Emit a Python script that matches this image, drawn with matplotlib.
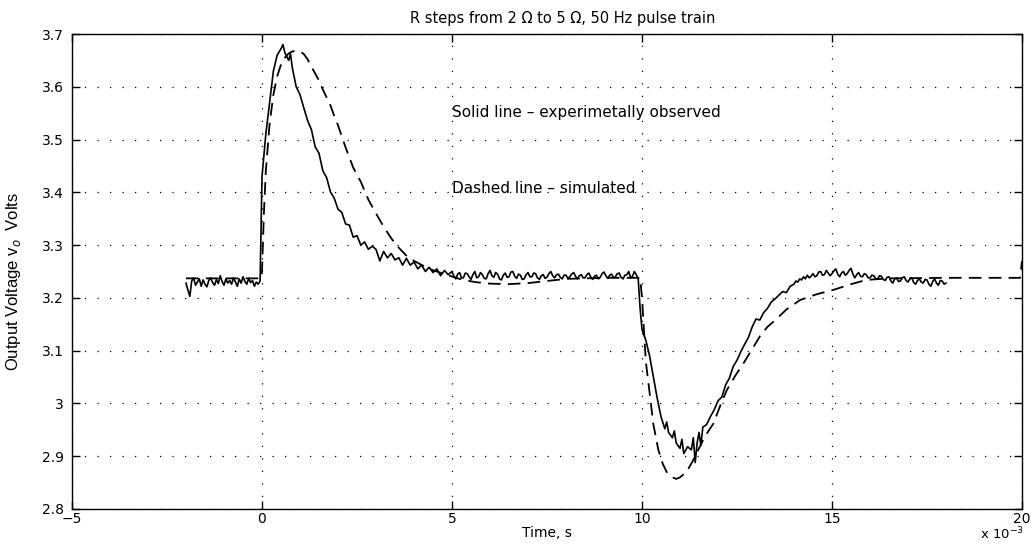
import matplotlib
matplotlib.use("Agg")
import matplotlib.pyplot as plt
import numpy as np

# ---------------- data (time in ms, voltage in V) ----------------
# experimental trace, uniformly sampled baseline segments (start, step, values)
exp_a_start, exp_a_step = -2.0, 0.05
exp_a = [3.228, 3.215, 3.203, 3.232, 3.238, 3.224, 3.230, 3.236, 3.222, 3.234, 3.226, 3.221, 3.233,
         3.238, 3.229, 3.224, 3.235, 3.227, 3.242, 3.231, 3.224, 3.236, 3.228, 3.233, 3.226, 3.238,
         3.230, 3.222, 3.236, 3.228, 3.240, 3.231, 3.226, 3.237, 3.229, 3.233, 3.222, 3.230, 3.226]

# step up and decay
t_exp_b = [-0.05, 0.0, 0.1, 0.2, 0.3, 0.4, 0.5, 0.55, 0.6, 0.7, 0.75, 0.8, 0.9, 1.0, 1.1, 1.2, 1.3,
           1.4, 1.5, 1.6, 1.7, 1.8, 1.9, 2.0, 2.1, 2.2, 2.3, 2.4, 2.5, 2.6, 2.7, 2.8, 2.9, 3.0, 3.1,
           3.2, 3.3, 3.4, 3.5, 3.6, 3.7, 3.8, 3.9, 4.0, 4.1, 4.2, 4.3, 4.4, 4.5, 4.6, 4.7, 4.8, 4.9]
v_exp_b = [3.232, 3.430, 3.510, 3.570, 3.630, 3.660, 3.672, 3.680, 3.665, 3.650, 3.662, 3.635, 3.600,
           3.585, 3.560, 3.536, 3.519, 3.486, 3.474, 3.441, 3.428, 3.401, 3.389, 3.368, 3.362, 3.340,
           3.338, 3.315, 3.318, 3.300, 3.306, 3.292, 3.298, 3.292, 3.270, 3.288, 3.276, 3.284, 3.272,
           3.276, 3.262, 3.275, 3.262, 3.268, 3.255, 3.262, 3.250, 3.258, 3.248, 3.255, 3.242, 3.252,
           3.244]

exp_c_start, exp_c_step = 5.0, 0.05
exp_c = [3.250, 3.241, 3.236, 3.245, 3.248, 3.238, 3.238, 3.247, 3.246, 3.240,
         3.235, 3.244, 3.250, 3.238, 3.240, 3.248, 3.244, 3.237, 3.236, 3.246,
         3.252, 3.242, 3.239, 3.248, 3.245, 3.236, 3.234, 3.243, 3.247, 3.239,
         3.240, 3.249, 3.250, 3.241, 3.237, 3.245, 3.243, 3.235, 3.236, 3.244,
         3.248, 3.240, 3.240, 3.247, 3.246, 3.238, 3.235, 3.242, 3.244, 3.237,
         3.239, 3.246, 3.250, 3.242, 3.238, 3.244, 3.245, 3.239, 3.236, 3.243,
         3.243, 3.237, 3.240, 3.245, 3.248, 3.241, 3.236, 3.242, 3.244, 3.238,
         3.238, 3.244, 3.247, 3.240, 3.235, 3.241, 3.243, 3.236, 3.239, 3.246,
         3.249, 3.242, 3.237, 3.243, 3.245, 3.238, 3.240, 3.246, 3.247, 3.239,
         3.236, 3.243, 3.244, 3.250, 3.238, 3.241, 3.250, 3.244, 3.236]

# step down and recovery
t_exp_d = [9.95, 10.0, 10.1, 10.2, 10.3, 10.4, 10.5, 10.6, 10.65, 10.7, 10.8, 10.85, 10.9, 11.0,
           11.05, 11.1, 11.2, 11.3, 11.35, 11.4, 11.45, 11.5, 11.55, 11.6, 11.7, 11.8, 11.9, 12.0,
           12.1, 12.2, 12.3, 12.4, 12.5, 12.6, 12.7, 12.8, 12.9, 13.0, 13.1, 13.2, 13.3, 13.4, 13.5,
           13.6, 13.7, 13.8, 13.9]
v_exp_d = [3.180, 3.140, 3.120, 3.090, 3.050, 3.010, 2.975, 2.952, 2.965, 2.945, 2.935, 2.948, 2.925,
           2.915, 2.932, 2.905, 2.918, 2.912, 2.935, 2.888, 2.925, 2.945, 2.920, 2.955, 2.960, 2.975,
           2.988, 3.005, 3.012, 3.035, 3.048, 3.070, 3.082, 3.098, 3.112, 3.125, 3.145, 3.160, 3.158,
           3.172, 3.180, 3.192, 3.198, 3.205, 3.212, 3.210, 3.222]

exp_e_start, exp_e_step = 14.0, 0.05
exp_e = [3.226, 3.232, 3.230, 3.236, 3.234, 3.240, 3.236, 3.243, 3.238, 3.241,
         3.246, 3.240, 3.242, 3.249, 3.250, 3.243, 3.244, 3.252, 3.247, 3.242,
         3.246, 3.251, 3.255, 3.245, 3.240, 3.247, 3.250, 3.243, 3.246, 3.252,
         3.256, 3.245, 3.238, 3.244, 3.248, 3.241, 3.240, 3.246, 3.244, 3.238,
         3.238, 3.243, 3.242, 3.236, 3.236, 3.242, 3.241, 3.235, 3.233, 3.239,
         3.240, 3.232, 3.228, 3.236, 3.238, 3.231, 3.232, 3.238, 3.240, 3.233,
         3.230, 3.236, 3.238, 3.229, 3.226, 3.233, 3.236, 3.230, 3.228, 3.235,
         3.234, 3.226, 3.222, 3.231, 3.236, 3.228, 3.224, 3.233, 3.232, 3.226,
         3.228]

# simulated trace
t_sim = [-2.0, -0.02, 0.0, 0.05, 0.1, 0.2, 0.3, 0.4, 0.5, 0.6, 0.7, 0.8, 0.9, 1.0, 1.1, 1.2, 1.3,
         1.4, 1.5, 1.6, 1.7, 1.8, 1.9, 2.0, 2.2, 2.4, 2.6, 2.8, 3.0, 3.2, 3.4, 3.6, 3.8, 4.0,
         4.4, 4.8, 5.2, 5.6, 6.0, 6.5, 7.0, 7.5, 8.0, 9.0, 9.95, 10.0, 10.05, 10.1, 10.2, 10.3,
         10.43, 10.55, 10.65, 10.8, 10.9, 11.0, 11.18, 11.35, 11.5, 11.61, 11.75, 11.88, 12.05,
         12.23, 12.45, 12.67, 12.9, 13.1, 13.3, 13.54, 13.8, 14.16, 14.6, 15.03, 15.5, 15.9,
         16.5, 18.0, 19.95, 20.0]
v_sim = [3.237, 3.237, 3.250, 3.360, 3.440, 3.530, 3.585, 3.620, 3.642, 3.655, 3.663, 3.667, 3.668,
         3.667, 3.662, 3.652, 3.638, 3.625, 3.612, 3.595, 3.580, 3.565, 3.545, 3.527, 3.485, 3.447,
         3.420, 3.386, 3.360, 3.335, 3.313, 3.295, 3.280, 3.270, 3.255, 3.245, 3.236, 3.230, 3.227,
         3.226, 3.228, 3.232, 3.236, 3.238, 3.238, 3.200, 3.140, 3.080, 3.020, 2.960, 2.912, 2.885,
         2.870, 2.860, 2.857, 2.860, 2.871, 2.893, 2.915, 2.931, 2.948, 2.962, 2.994, 3.025, 3.052,
         3.076, 3.103, 3.127, 3.145, 3.160, 3.178, 3.196, 3.207, 3.215, 3.226, 3.234, 3.237, 3.238,
         3.238, 3.270]

x_ticks = [-5, 0, 5, 10, 15, 20]
x_ticklabels = ["\u22125", "0", "5", "10", "15", "20"]
y_ticks = [2.8, 2.9, 3.0, 3.1, 3.2, 3.3, 3.4, 3.5, 3.6, 3.7]
y_ticklabels = ["2.8", "2.9", "3", "3.1", "3.2", "3.3", "3.4", "3.5", "3.6", "3.7"]

title = "R steps from 2 \u03a9 to 5 \u03a9, 50 Hz pulse train"
xlabel = "Time, s"
ylabel = "Output Voltage v$_o$  Volts"
note1 = "Solid line \u2013 experimetally observed"
note2 = "Dashed line \u2013 simulated"

# assemble the experimental trace
def seg(start, step, vals):
    return list(start + step * np.arange(len(vals)))

t_exp = seg(exp_a_start, exp_a_step, exp_a) + t_exp_b + seg(exp_c_start, exp_c_step, exp_c) \
    + t_exp_d + seg(exp_e_start, exp_e_step, exp_e)
v_exp = exp_a + v_exp_b + exp_c + v_exp_d + exp_e

# ---------------- figure ----------------
plt.rcParams['font.family'] = ['DejaVu Sans']
fig = plt.figure(figsize=(10.31, 5.44), dpi=100)
ax = fig.add_axes([72 / 1031, 1 - 509 / 544, 950 / 1031, 475 / 544])

ax.plot(t_sim, v_sim, color="black", linewidth=1.3, linestyle=(0, (7, 4)))
ax.plot(t_exp, v_exp, color="black", linewidth=1.2)

ax.set_xlim(-5, 20)
ax.set_ylim(2.8, 3.7)
ax.set_xticks(x_ticks)
ax.set_xticklabels(x_ticklabels)
ax.set_yticks(y_ticks)
ax.set_yticklabels(y_ticklabels)
ax.tick_params(direction="in", length=6, width=1, top=True, right=True,
               labelsize=10, colors="black")
ax.tick_params(axis="x", pad=2)
ax.tick_params(axis="y", pad=6)
ax.grid(True, color="black", linestyle=(0, (1, 9)), linewidth=0.9)
for s in ax.spines.values():
    s.set_linewidth(1.0)
    s.set_color("black")

ax.set_title(title, fontsize=10.5, pad=8, x=0.516)
ax.set_xlabel(xlabel, fontsize=10, labelpad=0)
ax.set_ylabel(ylabel, fontsize=12, family="Liberation Sans")
ax.yaxis.set_label_coords(-0.052, 0.48)
fig.text(1024 / 1031, 2 / 544, "x 10$^{-3}$", ha="right", va="bottom", fontsize=9.5)

ax.text(5.0, 3.552, note1, fontsize=11, ha="left", va="center")
ax.text(5.0, 3.408, note2, fontsize=11, ha="left", va="center")

fig.savefig("out.png", dpi=100)
